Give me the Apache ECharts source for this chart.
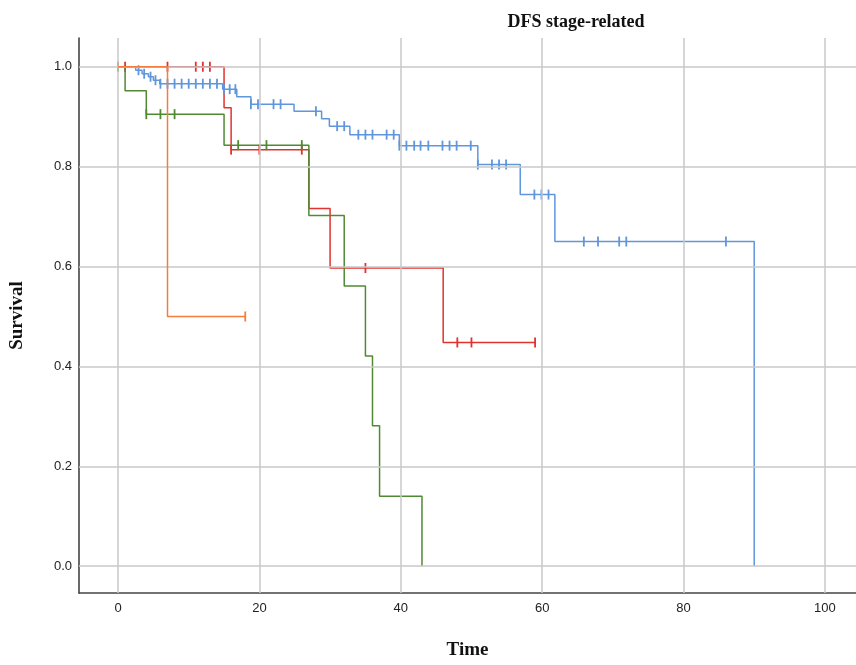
<!DOCTYPE html>
<html><head><meta charset="utf-8">
<script src="https://cdn.jsdelivr.net/npm/echarts@6/dist/echarts.min.js"></script>
<style>html,body{margin:0;padding:0;background:#fff}#c{width:856px;height:665px}</style>
</head><body><div id="c"></div>
<script>
// Tick values
const timeTicks = [0, 20, 40, 60, 80, 100];
const survivalTicks = [0, 0.2, 0.4, 0.6, 0.8, 1.0];

// Blue group
const blueEventTime = [0, 2.5, 3.4, 4.3, 5.0, 5.9, 14.8, 16.8, 18.8, 24.9, 28.8, 29.9, 32.8, 39.8, 50.9, 56.9, 61.8, 90];
const blueSurv      = [1, 0.993, 0.986, 0.980, 0.973, 0.966, 0.955, 0.940, 0.925, 0.911, 0.896, 0.881, 0.864, 0.842, 0.804, 0.744, 0.650, 0];
const blueCensor    = [2.9, 3.7, 4.6, 5.3, 6, 7, 8, 9, 10, 11, 12, 13, 14, 15.0, 15.8, 16.6, 18.8, 19.8, 22, 23, 28, 31, 32, 34, 35, 36, 38, 39, 39.8, 40.8, 41.9, 42.8, 43.9, 45.9, 46.9, 47.9, 49.9, 50.9, 52.9, 53.9, 54.9, 58.9, 59.9, 60.9, 65.9, 67.9, 70.9, 71.9, 86];
const blueEnd = 90;

// Red group
const redEventTime = [0, 15, 16, 27, 30, 46];
const redSurv      = [1, 0.918, 0.834, 0.716, 0.597, 0.448];
const redCensor    = [1, 7, 11, 12, 13, 16, 20, 26, 35, 48, 50, 59];
const redEnd = 59;

// Green group
const greenEventTime = [0, 1, 4, 15, 27, 32, 35, 36, 37, 43];
const greenSurv      = [1, 0.952, 0.905, 0.843, 0.702, 0.561, 0.421, 0.281, 0.140, 0];
const greenCensor    = [0, 4, 6, 8, 17, 21, 26];
const greenEnd = 43;

// Orange group
const orangeEventTime = [0, 7];
const orangeSurv      = [1, 0.5];
const orangeCensor    = [18];
const orangeEnd = 18;

const xMin = -5.52, xMax = 104.4, yMin = -0.0536, yMax = 1.0575;

function stepData(times, surv, end) {
  const d = times.map((t, i) => [t, surv[i]]);
  if (end > times[times.length - 1]) d.push([end, surv[surv.length - 1]]);
  return d;
}
function censorData(times, surv, cens) {
  return cens.map(c => {
    let s = surv[0];
    for (let i = 0; i < times.length; i++) if (times[i] <= c) s = surv[i];
    return [c, s];
  });
}

const groups = [
  {name: 'red', color: '#e0322e', t: redEventTime, s: redSurv, c: redCensor, e: redEnd},
  {name: 'green', color: '#4f8a33', t: greenEventTime, s: greenSurv, c: greenCensor, e: greenEnd},
  {name: 'blue', color: '#5f96dc', t: blueEventTime, s: blueSurv, c: blueCensor, e: blueEnd},
  {name: 'orange', color: '#f47c3c', t: orangeEventTime, s: orangeSurv, c: orangeCensor, e: orangeEnd}
];

const series = [{
  type: 'line', z: 1, data: [[0, 1]], symbol: 'none', lineStyle: {opacity: 0}, silent: true,
  markLine: {
    silent: true, symbol: ['none', 'none'], label: {show: false},
    lineStyle: {color: '#c9c9c9', width: 1.5, type: 'solid'},
    emphasis: {disabled: true},
    data: [...timeTicks.map(v => ({xAxis: v})), ...survivalTicks.map(v => ({yAxis: v}))]
  }
}];
groups.forEach((g, i) => {
  series.push({
    type: 'line', name: g.name, step: 'end', z: 2 + i, symbol: 'none', showSymbol: false,
    data: stepData(g.t, g.s, g.e),
    lineStyle: {color: g.color, width: 1.5}, itemStyle: {color: g.color}
  });
  series.push({
    type: 'scatter', name: g.name + ' censored', z: 2 + i,
    data: censorData(g.t, g.s, g.c),
    symbol: 'rect', symbolSize: [1.8, 10],
    itemStyle: {color: g.color, opacity: 1}
  });
});

const chart = echarts.init(document.getElementById('c'), null, {renderer: 'canvas'});
chart.setOption({
  animation: false,
  backgroundColor: '#fff',
  grid: {left: 79, right: 0, top: 38, bottom: 67},
  xAxis: {
    type: 'value', min: xMin, max: xMax,
    name: 'Time', nameLocation: 'middle', nameGap: 48,
    nameTextStyle: {fontFamily: 'Liberation Serif', fontWeight: 'bold', fontSize: 19, color: '#111'},
    axisLine: {show: true, onZero: false, lineStyle: {color: '#444', width: 1.6}},
    axisTick: {show: false},
    splitLine: {show: false},
    axisLabel: {customValues: timeTicks, color: '#222', fontSize: 13, margin: 9, fontFamily: 'Liberation Sans'}
  },
  yAxis: {
    type: 'value', min: yMin, max: yMax,
    name: 'Survival', nameLocation: 'middle', nameGap: 52, nameRotate: 90,
    nameTextStyle: {fontFamily: 'Liberation Serif', fontWeight: 'bold', fontSize: 19, color: '#111'},
    axisLine: {show: true, onZero: false, lineStyle: {color: '#444', width: 1.6}},
    axisTick: {show: false},
    splitLine: {show: false},
    axisLabel: {customValues: survivalTicks, color: '#222', fontSize: 13, margin: 7, fontFamily: 'Liberation Sans',
      formatter: v => v.toFixed(1)}
  },
  graphic: [{
    type: 'text', x: 576, y: 22,
    style: {text: 'DFS stage-related', font: 'bold 18px "Liberation Serif"', fill: '#111', align: 'center', verticalAlign: 'middle'}
  }],
  series: series
});
</script></body></html>
